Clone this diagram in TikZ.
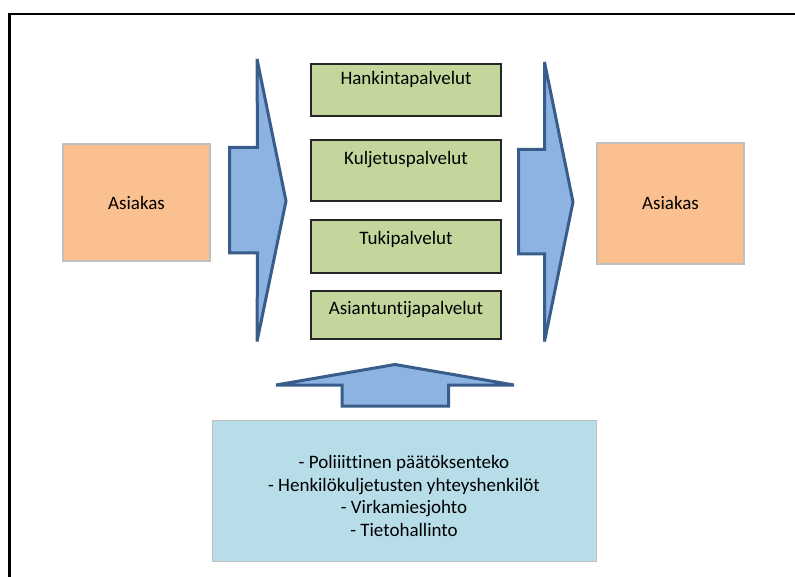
\documentclass[tikz,border=0pt]{standalone}
\usepackage{fontspec}
\setmainfont{Carlito}[Ligatures=NoCommon]
\definecolor{orangefill}{HTML}{FAC090}
\definecolor{greenfill}{HTML}{C3D69B}
\definecolor{bluefill}{HTML}{B7DDE8}
\definecolor{arrowfill}{HTML}{8DB3E2}
\definecolor{arrowline}{HTML}{385D8A}
\definecolor{softgray}{HTML}{BFBFBF}
\definecolor{boxline}{HTML}{262626}
\tikzset{
  custbox/.style={draw=softgray, line width=1.3pt, fill=orangefill, inner sep=0pt},
  servbox/.style={draw=boxline, line width=1.4pt, fill=greenfill, minimum width=190pt, inner sep=0pt},
  basebox/.style={draw=softgray, line width=1.3pt, fill=bluefill, inner sep=0pt},
  bigarrow/.style={draw=arrowline, line width=3pt, fill=arrowfill, line join=miter, miter limit=2},
  lbl/.style={font=\fontsize{19}{22.8}\selectfont, anchor=base, inner sep=0pt},
  frameline/.style={draw=black, line width=2.7pt}
}
\begin{document}
\begin{tikzpicture}[x=1pt,y=-1pt]
\useasboundingbox (0,0) rectangle (795,577);
% frame (top and left only)
\draw[frameline] (795,14) -- (9.7,14) -- (9.7,577);

% customer boxes
\node[custbox, minimum width=147pt, minimum height=117pt] (cl) at (136.5,202.5) {};
\node[lbl] (clt) at (136.5,210) {Asiakas};
\node[custbox, minimum width=147pt, minimum height=121pt] (cr) at (670.5,203.5) {};
\node[lbl] (crt) at (670.5,210) {Asiakas};

% service boxes
\node[servbox, minimum height=52pt] (s1) at (406,90) {};
\node[lbl] (s1t) at (406,85) {Hankintapalvelut};
\node[servbox, minimum height=61pt] (s2) at (406,170.5) {};
\node[lbl] (s2t) at (406,165) {Kuljetuspalvelut};
\node[servbox, minimum height=53pt] (s3) at (406,246.5) {};
\node[lbl] (s3t) at (406,244.3) {Tukipalvelut};
\node[servbox, minimum height=48pt] (s4) at (406,315) {};
\node[lbl] (s4t) at (406,315) {Asiantuntijapalvelut};

% bottom box
\node[basebox, minimum width=384pt, minimum height=141pt] (bb) at (404.5,491) {};
\node[lbl, align=center] (bbt) at (404,536.7) {- Poliiittinen päätöksenteko\\- Henkilökuljetusten yhteyshenkilöt\\- Virkamiesjohto\\- Tietohallinto};

% arrows
\draw[bigarrow] (229.5,147.5) -- (257.5,147.5) -- (257,59) -- (286,201) -- (257,341.5) -- (257.5,253) -- (229.5,253) -- cycle;
\draw[bigarrow] (518.5,149.5) -- (544.5,149.5) -- (544.5,62) -- (573,202) -- (544.5,341.5) -- (544.5,254) -- (518.5,254) -- cycle;
\draw[bigarrow] (342,406) -- (342,385) -- (276,385) -- (395,364.5) -- (514,385) -- (448.5,385) -- (448.5,406) -- cycle;
\end{tikzpicture}
\end{document}
